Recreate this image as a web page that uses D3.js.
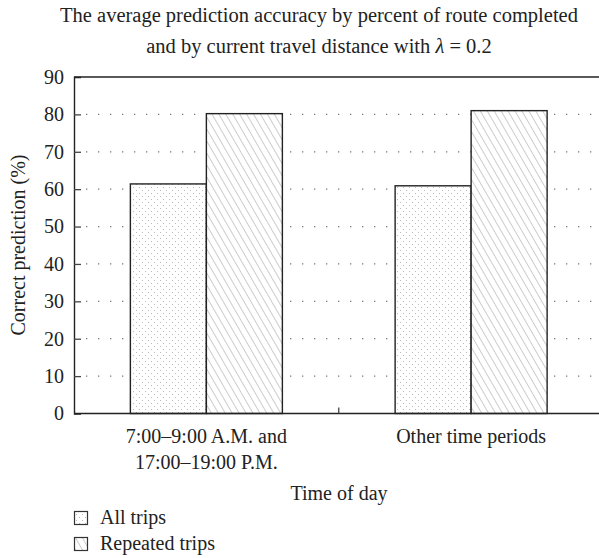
<!DOCTYPE html>
<html>
<head>
<meta charset="utf-8">
<script src="https://cdn.jsdelivr.net/npm/d3@7"></script>
<style>
  body { margin: 0; background: #fff; }
  svg text { font-family: 'Liberation Serif', serif !important; }
</style>
</head>
<body>
<div id="chart"></div>
<script>
var categories = [['7:00\u20139:00 A.M. and', '17:00\u201319:00 P.M.'], ['Other time periods']];
var seriesNames = ['All trips', 'Repeated trips'];
var allTrips = [61.4, 60.9];
var repeatedTrips = [80.2, 81.0];
var yTicks = [0, 10, 20, 30, 40, 50, 60, 70, 80, 90];

var W = 599, H = 558;
var m = {left: 74, top: 77};
var ih = 413.5 - m.top;

var svg = d3.select('#chart').append('svg')
    .attr('width', W)
    .attr('height', H);

var defs = svg.append('defs');
var dots = defs.append('pattern')
    .attr('id', 'dots').attr('patternUnits', 'userSpaceOnUse')
    .attr('width', 6).attr('height', 6);
dots.append('rect').attr('width', 6).attr('height', 6).attr('fill', '#fff');
dots.append('rect').attr('x', 1).attr('y', 1).attr('width', 1).attr('height', 1).attr('fill', '#bbb');
dots.append('rect').attr('x', 4).attr('y', 4).attr('width', 1).attr('height', 1).attr('fill', '#bbb');

var hatch = defs.append('pattern')
    .attr('id', 'hatch').attr('patternUnits', 'userSpaceOnUse')
    .attr('width', 6).attr('height', 6)
    .attr('patternTransform', 'rotate(-30)');
hatch.append('rect').attr('width', 6).attr('height', 6).attr('fill', '#fff');
hatch.append('line').attr('x1', 0).attr('y1', 0).attr('x2', 0).attr('y2', 6)
    .attr('stroke', '#999').attr('stroke-width', 1);

var fills = ['url(#dots)', 'url(#hatch)'];

var x = d3.scaleBand()
    .domain(d3.range(categories.length))
    .range([m.left, 603.5]);
var y = d3.scaleLinear().domain([0, 90]).range([m.top + ih, m.top]);
var barW = 76;

// title
svg.append('text').attr('x', 319).attr('y', 22).attr('text-anchor', 'middle')
    .attr('font-size', 20.5).attr('fill', '#222')
    .text('The average prediction accuracy by percent of route completed');
var t2 = svg.append('text').attr('x', 319).attr('y', 53).attr('text-anchor', 'middle')
    .attr('font-size', 20.5).attr('fill', '#222');
t2.append('tspan').text('and by current travel distance with ');
t2.append('tspan').style('font-style', 'italic').text('\u03bb');
t2.append('tspan').text(' = 0.2');

// dotted grid
svg.append('g').selectAll('line')
    .data(yTicks.filter(function(d) { return d > 0 && d < 90; }))
    .enter().append('line')
    .attr('x1', m.left + 12).attr('x2', W)
    .attr('y1', function(d) { return y(d); })
    .attr('y2', function(d) { return y(d); })
    .attr('stroke', '#777')
    .attr('stroke-width', 1.3)
    .attr('stroke-dasharray', '1.3,10.7');

// bars
var data = [allTrips, repeatedTrips];
var g = svg.append('g');
categories.forEach(function(c, i) {
  var cx = x(i) + x.bandwidth() / 2;
  data.forEach(function(s, j) {
    g.append('rect')
        .attr('x', cx - barW + j * barW)
        .attr('y', y(s[i]))
        .attr('width', barW)
        .attr('height', y(0) - y(s[i]))
        .attr('fill', fills[j])
        .attr('stroke', '#222')
        .attr('stroke-width', 1.4);
  });
});

// axes
var yAxis = svg.append('g')
    .attr('transform', 'translate(' + m.left + ',0)')
    .call(d3.axisLeft(y).tickValues(yTicks).tickSize(-7).tickPadding(10));
yAxis.attr('font-size', 20);
yAxis.select('.domain').attr('stroke', '#222').attr('stroke-width', 1.4);
yAxis.selectAll('.tick line').attr('stroke', '#444').attr('stroke-width', 1.3);
yAxis.selectAll('.tick').filter(function(d) { return d === 0 || d === 90; })
    .select('line').remove();
yAxis.selectAll('text').attr('fill', '#222');

svg.append('line').attr('x1', m.left).attr('x2', W)
    .attr('y1', y(90)).attr('y2', y(90))
    .attr('stroke', '#222').attr('stroke-width', 1.4);
svg.append('line').attr('x1', m.left).attr('x2', W)
    .attr('y1', y(0)).attr('y2', y(0))
    .attr('stroke', '#222').attr('stroke-width', 1.4);

// tick between categories
svg.append('line')
    .attr('x1', x(1)).attr('x2', x(1))
    .attr('y1', y(0)).attr('y2', y(0) - 6)
    .attr('stroke', '#444').attr('stroke-width', 1.3);

// category labels
categories.forEach(function(c, i) {
  var cx = x(i) + x.bandwidth() / 2;
  c.forEach(function(line, k) {
    svg.append('text').attr('x', cx).attr('y', 443 + k * 26)
        .attr('text-anchor', 'middle').attr('font-size', 20).attr('fill', '#222')
        .text(line);
  });
});

svg.append('text').attr('x', 339).attr('y', 500).attr('text-anchor', 'middle')
    .attr('font-size', 20).attr('fill', '#222').text('Time of day');

svg.append('text')
    .attr('transform', 'translate(25,245) rotate(-90)')
    .attr('text-anchor', 'middle').attr('font-size', 20).attr('fill', '#222')
    .text('Correct prediction (%)');

// legend
seriesNames.forEach(function(n, j) {
  var ly = 511 + j * 26;
  svg.append('rect').attr('x', 74.5).attr('y', ly + 0.5)
      .attr('width', 13).attr('height', 13)
      .attr('fill', fills[j]).attr('stroke', '#333').attr('stroke-width', 1.2);
  svg.append('text').attr('x', 100).attr('y', ly + 13)
      .attr('font-size', 20).attr('fill', '#222').text(n);
});
</script>
</body>
</html>
